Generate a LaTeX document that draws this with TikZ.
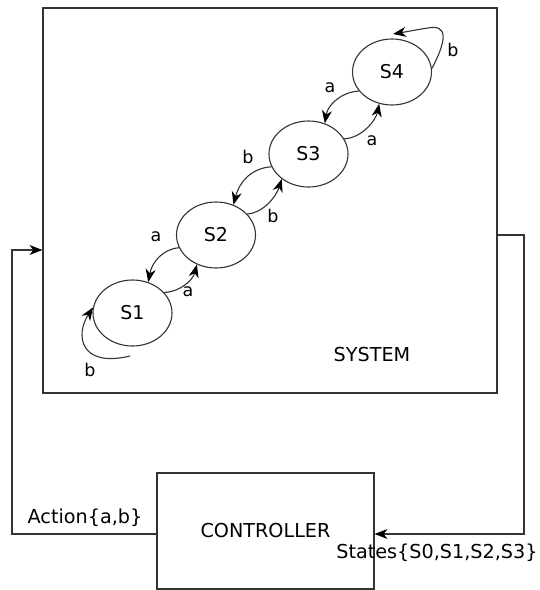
\documentclass[tikz,border=0pt]{standalone}
\usepackage{fontspec}
\setmainfont{DejaVu Sans}
\usetikzlibrary{arrows.meta,shapes.geometric}
\colorlet{lc}{black!80}
\begin{document}
\begin{tikzpicture}[x=1pt,y=-1pt,
  line width=1.1pt,
  state/.style={ellipse, draw=lc, minimum width=79pt, minimum height=66pt, inner sep=0pt, font=\fontsize{19}{22}\selectfont},
  lbl/.style={font=\fontsize{17.5}{20}\selectfont, inner sep=0pt},
  txt/.style={font=\fontsize{19.2}{22}\selectfont, inner sep=0pt},
  arr/.style={draw=lc, -{Stealth[length=13pt,width=10pt,inset=4pt,color=black]}},
  box/.style={draw=lc, inner sep=0pt}
]
\useasboundingbox (0,0) rectangle (540,590);

% system and controller
\node[box, minimum width=454pt, minimum height=385pt] (sys) at (270,200.5) {};
\node[box, txt, minimum width=217pt, minimum height=116pt] (ctrl) at (265.5,531) {CONTROLLER};
\node[txt] (systxt) at (372,355) {SYSTEM};

% states
\node[state] (S4) at (392,72) {S4};
\node[state] (S3) at (308.5,154) {S3};
\node[state] (S2) at (216,235) {S2};
\node[state] (S1) at (132.5,313) {S1};

% transitions
\draw[arr] (S4.210) .. controls (342,92) and (328,104) .. (S3.62);
\draw[arr] (S3.23) .. controls (362,138) and (376,120) .. (S4.248);
\draw[arr] (S3.199) .. controls (253,168) and (240,180) .. (S2.60);
\draw[arr] (S2.34) .. controls (263,213) and (276,197) .. (S3.223);
\draw[arr] (S2.199) .. controls (163,249) and (152,262) .. (S1.63);
\draw[arr] (S1.33) .. controls (180,292) and (193,280) .. (S2.237);

% self loops
\coordinate (l1s) at (130,356);
\draw[arr] (l1s) .. controls (80,368) and (75,335) .. (S1.172);
\coordinate (l4e) at (393,34);
\draw[arr] (S4.5) .. controls (447,40) and (448,24) .. (428,28) .. controls (415,30) and (405,32) .. (l4e);

% edge labels
\node[lbl] (la43) at (330,88) {a};
\node[lbl] (la34) at (372,141) {a};
\node[lbl] (lb32) at (248,157) {b};
\node[lbl] (lb23) at (273,216) {b};
\node[lbl] (la21) at (156,237) {a};
\node[lbl] (la12) at (188,292) {a};
\node[lbl] (lb11) at (90,370) {b};
\node[lbl] (lb44) at (453,50) {b};

% feedback loop
\coordinate (cl) at (12,534);
\coordinate (cu) at (12,250);
\draw[arr] (ctrl.west |- cl) -- (cl) -- (cu) -- (sys.west |- cu);
\coordinate (rr) at (524,235);
\coordinate (rb) at (524,534);
\draw[arr] (sys.east |- rr) -- (rr) -- (rb) -- (ctrl.east |- rb);

\node[txt] (act) at (85,518) {Action\{a,b\}};
\node[txt] (sts) at (437,553) {States\{S0,S1,S2,S3\}};
\end{tikzpicture}
\end{document}
